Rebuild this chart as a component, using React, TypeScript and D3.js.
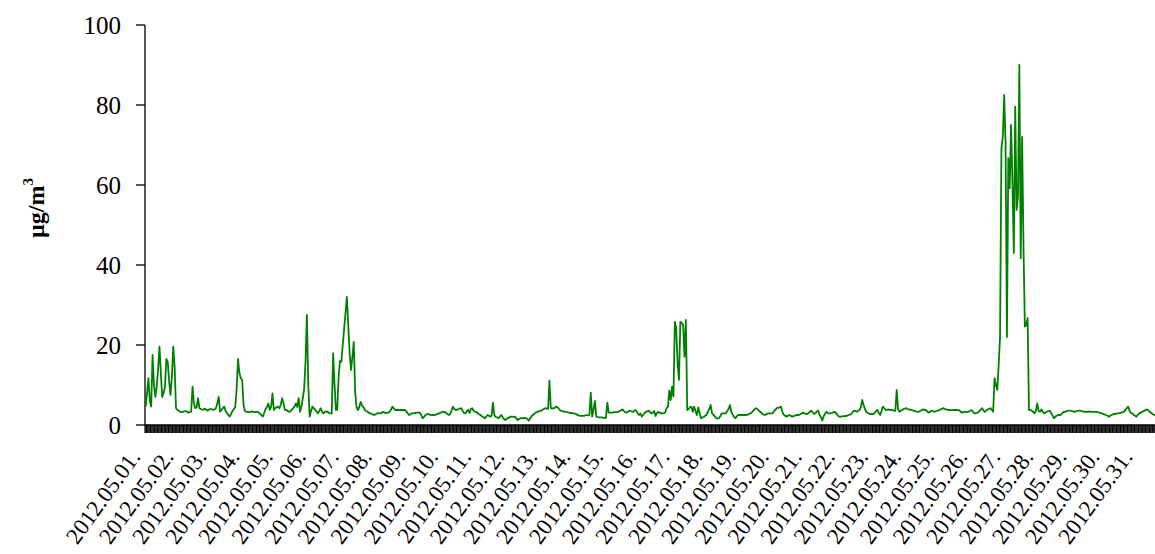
import React from 'react';
import * as d3 from 'd3';

// 2012 May, one label per day
const dayLabels = [
  '2012.05.01.', '2012.05.02.', '2012.05.03.', '2012.05.04.', '2012.05.05.', '2012.05.06.',
  '2012.05.07.', '2012.05.08.', '2012.05.09.', '2012.05.10.', '2012.05.11.', '2012.05.12.',
  '2012.05.13.', '2012.05.14.', '2012.05.15.', '2012.05.16.', '2012.05.17.', '2012.05.18.',
  '2012.05.19.', '2012.05.20.', '2012.05.21.', '2012.05.22.', '2012.05.23.', '2012.05.24.',
  '2012.05.25.', '2012.05.26.', '2012.05.27.', '2012.05.28.', '2012.05.29.', '2012.05.30.',
  '2012.05.31.',
];

// hourly concentrations (µg/m3), one row of 24 per day
const hourly: number[][] = [
  [4.6, 8, 11.7, 6, 4.6, 17.5, 10, 7, 9.6, 14, 19.6, 13, 7, 8, 9.6, 16.5, 15.8, 11, 7.5, 12, 19.6, 14.6, 4.2, 3.8],
  [3.6, 3.3, 3.2, 3.3, 3.4, 3.5, 3.3, 3.1, 3.2, 3.4, 9.6, 5.4, 4.2, 4.5, 6.7, 4.2, 4.0, 3.8, 3.9, 4.1, 3.8, 3.6, 3.9, 4.0],
  [3.9, 3.8, 3.9, 4.2, 5.5, 7, 3.3, 3.8, 4.2, 4.6, 3.5, 2.9, 2.5, 2.1, 2.8, 3.5, 4.0, 4.5, 9, 16.5, 13, 11.7, 11.3, 5],
  [3.5, 3.3, 3.3, 3.2, 3.3, 3.4, 3.3, 3.2, 3.3, 3.3, 3.1, 2.8, 2.5, 2.1, 3.0, 4.0, 4.5, 5.4, 3.8, 4.5, 7.9, 3.8, 4.2, 4.4],
  [4.6, 4.2, 5, 6.7, 5.5, 3.8, 3.8, 3.5, 3.3, 3.4, 3.8, 4.2, 4.6, 5.4, 4.5, 6.7, 3.3, 4.5, 6.7, 9, 16, 27.5, 10, 2.1],
  [3.5, 4.6, 4.2, 3.8, 3.4, 2.9, 3.5, 4.2, 3.3, 2.9, 3.3, 3.4, 3.3, 3.0, 2.9, 2.9, 17.9, 10.4, 3.8, 3.8, 12, 16, 15.8, 20],
  [24, 28, 32, 25, 18, 13.75, 17, 20.8, 8.3, 4.5, 3.75, 4.5, 5.8, 4.8, 4.5, 3.75, 3.5, 3.3, 3.1, 2.9, 2.8, 2.6, 2.5, 2.7],
  [2.9, 3.0, 2.9, 2.9, 3.3, 3.2, 3.0, 3.0, 3.1, 3.3, 3.8, 4.6, 4.2, 3.8, 3.75, 3.75, 3.75, 3.75, 3.75, 3.75, 3.75, 3.5, 3.0, 2.5],
  [2.6, 2.9, 2.9, 3.0, 3.0, 3.1, 3.1, 3.1, 2.4, 1.7, 2.0, 2.5, 2.7, 2.75, 2.6, 2.5, 2.5, 2.5, 2.5, 2.7, 2.8, 2.9, 3.1, 3.2],
  [3.3, 3.3, 3.0, 2.7, 2.5, 2.8, 3.6, 4.6, 4.0, 3.75, 3.8, 4.0, 4.1, 4.2, 3.6, 3.0, 2.9, 3.4, 3.8, 3.0, 4.0, 4.2, 3.5, 3.3],
  [3.3, 2.9, 2.7, 2.5, 2.2, 2.0, 1.7, 2.0, 2.5, 2.3, 2.1, 2.3, 5.6, 2.5, 2.0, 1.9, 1.7, 2.1, 2.5, 2.0, 1.5, 1.25, 1.6, 1.7],
  [1.9, 2.1, 2.1, 2.0, 2.1, 1.6, 1.25, 1.5, 1.7, 1.7, 1.7, 1.8, 1.7, 1.5, 1.1, 1.6, 2.2, 2.5, 2.8, 3.1, 3.2, 3.4, 3.5, 3.6],
  [3.8, 4.0, 4.2, 4.1, 4.0, 11.1, 4.2, 4.1, 4.2, 4.3, 4.6, 4.4, 4.0, 3.6, 3.5, 3.4, 3.3, 3.3, 3.2, 3.1, 3.0, 3.0, 2.9, 2.9],
  [2.8, 2.6, 2.4, 2.3, 2.3, 2.3, 2.3, 2.4, 2.5, 2.4, 2.5, 8.1, 2.1, 3.8, 6.0, 2.1, 2.0, 1.9, 1.9, 1.9, 1.8, 1.7, 1.8, 5.6],
  [3.1, 3.1, 3.1, 3.1, 3.2, 3.2, 3.2, 3.3, 3.5, 3.7, 3.9, 3.5, 3.2, 3.1, 3.3, 3.6, 3.5, 3.3, 3.3, 3.75, 3.6, 2.9, 2.5, 2.9],
  [2.1, 2.5, 3.0, 3.3, 3.4, 3.6, 3.2, 2.9, 3.1, 3.5, 2.25, 3.0, 3.3, 3.1, 2.9, 2.9, 2.9, 3.2, 4.2, 4.6, 8.6, 6.25, 9.6, 7.1],
  [25.8, 24.2, 15.4, 11.25, 25.8, 25.5, 25.0, 17.1, 26.25, 3.75, 4.0, 4.4, 4.6, 3.3, 4.6, 3.5, 2.5, 4.4, 3.0, 1.7, 1.9, 2.0, 2.3, 2.5],
  [3.3, 4.0, 5.0, 2.9, 2.5, 2.2, 1.7, 1.6, 1.7, 2.2, 2.9, 2.9, 2.9, 2.9, 3.5, 4.0, 5.0, 3.3, 2.6, 2.0, 1.7, 2.2, 2.5, 2.5],
  [2.5, 2.5, 2.5, 2.5, 2.5, 2.6, 2.8, 2.9, 3.2, 3.6, 4.0, 4.2, 3.9, 3.6, 3.3, 3.0, 2.7, 2.5, 2.6, 2.8, 2.9, 2.9, 2.9, 2.9],
  [3.5, 3.8, 4.2, 4.3, 4.4, 4.6, 3.3, 2.6, 2.3, 2.1, 2.3, 2.5, 2.3, 2.1, 2.2, 2.3, 2.5, 2.5, 2.5, 2.7, 2.9, 3.1, 2.9, 2.8],
  [2.75, 3.0, 3.3, 3.6, 3.2, 2.75, 3.0, 3.3, 3.6, 2.5, 2.0, 1.1, 2.2, 2.8, 3.3, 3.0, 2.9, 2.9, 3.0, 3.2, 3.3, 3.0, 2.5, 2.1],
  [2.1, 2.1, 2.2, 2.2, 2.25, 2.3, 2.5, 2.6, 2.75, 3.2, 3.6, 3.5, 3.3, 3.5, 3.75, 4.5, 6.25, 5.0, 4.0, 3.3, 3.0, 2.8, 2.75, 2.75],
  [2.75, 3.0, 3.5, 3.75, 3.0, 2.5, 3.5, 4.6, 4.2, 3.75, 3.8, 3.9, 3.8, 3.75, 3.7, 3.6, 3.5, 8.75, 4.0, 3.3, 3.6, 3.75, 4.0, 4.1],
  [4.2, 4.0, 3.9, 3.8, 3.7, 3.6, 3.5, 3.4, 3.3, 3.3, 3.5, 3.7, 3.9, 3.8, 3.75, 3.5, 3.1, 3.2, 3.6, 3.5, 3.3, 3.4, 3.5, 3.6],
  [3.75, 3.9, 4.1, 4.2, 4.0, 3.9, 3.8, 3.75, 3.7, 3.7, 3.75, 3.8, 3.75, 3.7, 3.75, 3.5, 3.1, 3.2, 3.3, 3.3, 3.2, 3.3, 3.5, 3.7],
  [3.5, 3.0, 2.9, 3.0, 3.1, 3.5, 3.9, 4.2, 3.6, 3.3, 3.6, 3.9, 4.0, 4.2, 3.8, 3.3, 11.7, 10, 8.75, 15, 22, 69.2, 72, 82.5],
  [70.4, 22, 66.7, 59.2, 75, 60.4, 43, 79.6, 53.75, 57, 90, 41.7, 72, 45, 24.6, 25, 26.7, 3.75, 3.75, 3.6, 3.3, 2.9, 3.5, 5.4],
  [3.5, 3.3, 3.9, 3.3, 2.9, 3.1, 3.3, 3.5, 3.6, 3.0, 2.5, 1.7, 2.0, 2.3, 2.5, 2.5, 2.5, 2.9, 3.2, 3.3, 3.4, 3.5, 3.6, 3.6],
  [3.5, 3.4, 3.3, 3.4, 3.5, 3.6, 3.6, 3.5, 3.4, 3.3, 3.3, 3.3, 3.3, 3.4, 3.3, 3.3, 3.3, 3.3, 3.3, 3.2, 3.1, 3.0, 2.9, 2.7],
  [2.6, 2.5, 2.3, 2.1, 2.3, 2.5, 2.7, 2.75, 2.8, 2.9, 2.9, 3.0, 3.1, 3.2, 3.3, 3.8, 4.2, 4.6, 3.5, 3.0, 2.9, 2.5, 2.3, 2.1],
  [2.5, 2.9, 3.1, 3.3, 3.4, 3.6, 3.8, 3.9, 3.5, 3.2, 2.9, 2.7, 2.5, 2.6, 2.8, 3.0, 3.1, 3.2, 3.0, 2.9, 3.1, 3.3, 3.2, 3.0],
];

const yTicks = [0, 20, 40, 60, 80, 100];

const font = '"Liberation Serif", "Times New Roman", serif';
const lineColor = '#008000';

export default function App() {
  const values = hourly.flat();
  const left = 145;
  const hourStep = 1.378; // plot runs past the right edge of the window, as in the original
  const x = d3.scaleBand<number>()
    .domain(d3.range(values.length))
    .range([left, left + values.length * hourStep]);
  const y = d3.scaleLinear().domain([0, 100]).range([425, 25]);

  const line = d3.line<number>()
    .x((_, i) => x(i)! + x.bandwidth() / 2)
    .y(d => y(d));

  // one tick per hour under the axis
  const tickPath = d3.range(values.length + 1)
    .map(i => {
      const tx = i < values.length ? x(i)! : x(values.length - 1)! + x.bandwidth();
      return `M${tx},${y(0)}V${y(0) + 8}`;
    })
    .join('');

  return (
    <div style={{ position: 'fixed', left: 0, top: 0, width: 1155, height: 554, overflow: 'hidden', background: '#fff' }}>
      <svg width={1180} height={554} style={{ display: 'block' }} fontFamily={font}>
        {/* y axis */}
        <line x1={left} x2={left} y1={y(100)} y2={y(0)} stroke="#000" strokeWidth={1.3} />
        {yTicks.map(t => (
          <g key={t}>
            <line x1={left - 9} x2={left} y1={y(t)} y2={y(t)} stroke="#000" strokeWidth={1.3} />
            <text x={left - 24} y={y(t)} dy="0.35em" textAnchor="end" fontSize={25}>{t}</text>
          </g>
        ))}
        <text transform="translate(44,208) rotate(-90)" textAnchor="middle" fontSize={24} fontWeight="bold">
          µg/m<tspan fontSize={15} dy={-11}>3</tspan>
        </text>

        {/* x axis */}
        <path d={tickPath} stroke="#000" strokeWidth={1.2} fill="none" />
        <line x1={left} x2={left + values.length * hourStep} y1={y(0)} y2={y(0)} stroke="#000" strokeWidth={1.3} />
        {dayLabels.map((label, d) => (
          <text
            key={label}
            transform={`translate(${x(d * 24)! + x.bandwidth() / 2 - 4.2},457) rotate(-54)`}
            textAnchor="end"
            fontSize={23}
          >
            {label}
          </text>
        ))}

        {/* series */}
        <path d={line(values) ?? ''} fill="none" stroke={lineColor} strokeWidth={1.8} strokeLinejoin="round" />
      </svg>
    </div>
  );
}
